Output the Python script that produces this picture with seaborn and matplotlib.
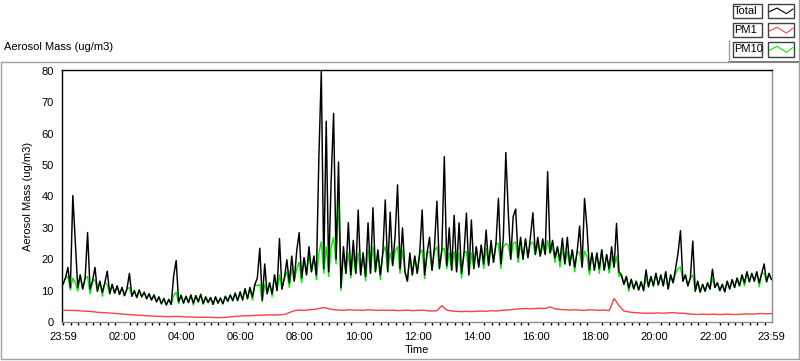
import numpy as np
import pandas as pd
import matplotlib
matplotlib.use("Agg")
import matplotlib.pyplot as plt
import seaborn as sns
from matplotlib.lines import Line2D
from matplotlib.patches import Rectangle

# ---------------- data ----------------
# Total and PM10: one value every 5 minutes, starting 23:59 (minute 0)
total = [
    12.0, 14.0, 17.4, 11.0, 40.3, 25.5, 11.0, 15.0, 10.5, 14.0, 28.5, 10.5,
    13.0, 17.4, 9.8, 13.0, 9.5, 12.5, 16.2, 9.0, 12.0, 9.2, 11.5, 8.8,
    11.0, 8.4, 10.5, 15.5, 8.2, 10.0, 7.8, 10.2, 8.0, 9.5, 7.4, 9.0,
    7.0, 8.6, 6.4, 8.0, 5.8, 7.5, 5.4, 7.2, 5.6, 14.8, 19.6, 6.5,
    8.5, 6.0, 8.2, 6.2, 8.6, 6.0, 8.4, 6.4, 8.8, 5.8, 8.0, 6.2,
    7.8, 5.6, 8.0, 6.0, 7.6, 5.8, 8.2, 6.6, 8.6, 6.8, 9.2, 6.8,
    9.6, 7.0, 10.6, 7.4, 11.0, 8.0, 12.0, 14.0, 23.5, 7.0, 18.5, 9.0,
    12.5, 9.0, 15.0, 10.0, 26.6, 10.5, 14.0, 19.8, 12.5, 21.0, 13.0, 22.6,
    28.5, 14.0, 20.5, 15.0, 24.0, 16.0, 21.0, 15.0, 52.0, 79.8, 17.0, 64.0,
    16.0, 45.0, 66.5, 20.0, 51.0, 11.0, 24.0, 15.5, 31.7, 15.0, 26.0, 15.5,
    35.7, 15.0, 22.0, 14.5, 31.6, 15.5, 36.4, 16.0, 23.0, 15.0, 22.0, 38.9,
    16.0, 35.0, 18.0, 27.5, 43.7, 17.0, 30.0, 16.0, 13.0, 22.0, 15.0, 21.0,
    15.5, 22.0, 35.7, 15.0, 22.0, 27.0, 16.5, 24.0, 38.5, 17.0, 23.0, 52.7,
    18.0, 30.0, 16.5, 34.0, 16.0, 31.6, 15.5, 22.0, 34.7, 15.0, 32.5, 17.0,
    24.0, 17.5, 24.5, 18.5, 29.3, 18.0, 26.0, 19.0, 25.0, 39.4, 18.5, 27.0,
    54.0, 35.0, 20.0, 33.6, 36.0, 20.5, 27.0, 20.0, 26.5, 20.5, 27.0, 34.8,
    21.5, 27.0, 21.0, 26.5, 21.5, 47.9, 22.0, 26.0, 20.5, 24.0, 19.5, 26.7,
    18.5, 27.0, 18.0, 23.0, 17.5, 22.5, 30.6, 17.5, 39.4, 30.0, 16.5, 22.0,
    16.5, 22.0, 17.0, 23.0, 16.5, 21.5, 17.0, 24.0, 17.5, 31.4, 16.0, 15.0,
    12.0, 14.5, 10.8, 13.6, 10.5, 13.0, 10.2, 12.8, 10.0, 16.6, 11.2, 14.5,
    11.5, 15.5, 11.8, 15.0, 11.5, 16.0, 10.5, 15.0, 12.5, 17.0, 21.9, 29.1,
    13.0, 15.0, 11.5, 14.0, 25.8, 9.8, 13.0, 9.5, 12.0, 9.8, 12.5, 10.5,
    16.8, 11.0, 12.5, 10.0, 12.0, 9.6, 13.0, 10.5, 13.5, 11.0, 14.0, 11.5,
    15.0, 12.5, 16.0, 12.8, 15.5, 13.0, 16.0, 12.5, 15.5, 18.5, 12.8, 15.5,
    13.5,
]
pm10 = [
    12.0, 14.0, 14.5, 10.2, 14.0, 12.5, 9.8, 15.0, 10.5, 14.0, 14.5, 9.0,
    13.0, 13.5, 9.8, 13.0, 8.2, 12.5, 12.0, 9.0, 12.0, 9.2, 11.5, 8.8,
    11.0, 8.4, 10.5, 11.0, 8.2, 10.0, 7.8, 10.2, 8.0, 9.5, 7.4, 9.0,
    7.0, 8.6, 6.4, 8.0, 5.8, 7.5, 5.4, 7.2, 5.6, 8.5, 9.5, 5.8,
    8.5, 6.0, 8.2, 6.2, 8.6, 5.4, 8.4, 6.4, 8.8, 5.8, 8.0, 6.2,
    7.8, 5.6, 8.0, 6.0, 7.6, 5.8, 8.2, 6.6, 8.6, 6.8, 9.2, 6.8,
    9.6, 7.0, 10.6, 7.4, 11.0, 7.0, 12.0, 11.5, 12.0, 6.5, 12.0, 9.0,
    12.5, 8.0, 15.0, 10.0, 15.0, 10.5, 14.0, 16.0, 11.0, 17.0, 13.0, 17.0,
    19.0, 12.5, 20.5, 15.0, 21.0, 16.0, 21.0, 13.5, 22.0, 25.5, 15.5, 24.0,
    14.5, 24.0, 27.0, 18.5, 39.0, 10.0, 22.0, 15.5, 22.0, 14.0, 22.0, 15.5,
    22.0, 15.0, 22.0, 13.2, 23.0, 15.5, 24.0, 16.0, 21.5, 13.5, 22.0, 24.0,
    16.0, 22.0, 18.0, 22.5, 24.0, 15.5, 23.0, 16.0, 13.0, 20.5, 15.0, 21.0,
    15.5, 22.0, 23.0, 13.8, 22.0, 22.5, 16.5, 22.5, 24.0, 17.0, 23.0, 23.5,
    17.0, 22.0, 16.5, 22.5, 16.0, 22.0, 14.0, 22.0, 22.5, 15.0, 22.0, 17.0,
    24.0, 17.5, 24.5, 17.0, 23.5, 18.0, 24.0, 19.0, 25.0, 25.0, 17.0, 24.0,
    25.0, 24.5, 20.0, 25.0, 25.5, 19.0, 25.0, 20.0, 26.5, 20.5, 25.0, 25.5,
    21.5, 25.0, 21.0, 24.5, 21.5, 26.0, 22.0, 24.0, 19.0, 24.0, 17.5, 23.5,
    18.5, 22.5, 18.0, 23.0, 16.0, 22.5, 22.0, 17.5, 22.5, 21.0, 15.0, 22.0,
    16.5, 22.0, 15.5, 23.0, 16.5, 21.5, 15.5, 21.0, 17.5, 21.0, 14.5, 15.0,
    12.0, 14.5, 9.8, 13.6, 10.5, 13.0, 10.2, 12.8, 10.0, 14.0, 11.2, 14.5,
    11.5, 15.5, 11.8, 15.0, 11.5, 16.0, 10.5, 15.0, 12.5, 15.5, 17.0, 17.5,
    13.0, 15.0, 11.5, 14.0, 15.0, 9.8, 13.0, 9.5, 12.0, 9.8, 12.5, 10.5,
    14.0, 11.0, 12.5, 10.0, 12.0, 9.6, 13.0, 10.5, 13.5, 11.0, 14.0, 11.5,
    15.0, 11.5, 16.0, 12.8, 15.5, 13.0, 16.0, 11.2, 15.5, 15.5, 12.8, 15.5,
    13.5,
]
# PM1: one value every 10 minutes
pm1 = [
    3.8, 3.7, 3.7, 3.6, 3.5, 3.4,
    3.3, 3.1, 3.0, 2.9, 2.8, 2.7,
    2.5, 2.4, 2.3, 2.2, 2.1, 2.0,
    1.9, 1.8, 1.8, 1.7, 1.7, 1.8,
    1.7, 1.6, 1.6, 1.5, 1.5, 1.5,
    1.5, 1.4, 1.4, 1.5, 1.6, 1.8,
    1.9, 2.0, 2.0, 2.1, 2.2, 2.2,
    2.3, 2.2, 2.3, 2.4, 3.0, 3.6,
    3.8, 3.7, 3.9, 4.0, 4.3, 4.6,
    4.2, 3.9, 3.8, 3.7, 3.9, 3.8,
    3.8, 3.7, 3.9, 3.8, 3.7, 3.8,
    3.7, 3.8, 3.6, 3.7, 3.8, 3.6,
    3.7, 3.8, 3.6, 3.5, 3.6, 5.2,
    3.8, 3.5, 3.4, 3.3, 3.4, 3.3,
    3.4, 3.5, 3.4, 3.6, 3.5, 3.7,
    3.8, 3.9, 4.1, 4.2, 4.3, 4.2,
    4.3, 4.4, 4.3, 4.8, 4.2, 4.0,
    3.9, 3.8, 3.9, 3.8, 3.7, 3.9,
    3.8, 3.7, 3.8, 3.6, 7.5, 5.2,
    3.5, 3.2, 3.0, 2.9, 2.8, 2.8,
    2.8, 2.9, 2.8, 2.9, 3.0, 2.8,
    2.8, 2.6, 2.5, 2.4, 2.5, 2.4,
    2.5, 2.4, 2.4, 2.5, 2.4, 2.4,
    2.5, 2.6, 2.5, 2.6, 2.7, 2.6,
    2.7,
]
step_5 = 5
step_10 = 10
tick_minutes = [0, 121, 241, 361, 481, 601, 721, 841, 961, 1081, 1201, 1321, 1440]
tick_labels = ["23:59", "02:00", "04:00", "06:00", "08:00", "10:00", "12:00",
               "14:00", "16:00", "18:00", "20:00", "22:00", "23:59"]
series_names = ["Total", "PM1", "PM10"]
series_colors = ["#000000", "#ff4040", "#00ee00"]

# ---------------- figure ----------------
sns.set_theme(style="white")
plt.rcParams["font.family"] = ["Liberation Sans", "DejaVu Sans"]

W, H = 800, 361
fig = plt.figure(figsize=(W / 100, H / 100), dpi=100)
fig.patch.set_facecolor("white")

def fx(x):
    return x / W

def fy(y):
    return 1 - y / H

ax = fig.add_axes([fx(62), fy(322), (772 - 62) / W, (322 - 70) / H])
ax.set_facecolor("white")

t5 = np.arange(len(total)) * step_5
t10 = np.arange(len(pm1)) * step_10
df_total = pd.DataFrame({"minute": t5, "value": total})
df_pm10 = pd.DataFrame({"minute": t5, "value": pm10})
df_pm1 = pd.DataFrame({"minute": t10, "value": pm1})

sns.lineplot(data=df_pm10, x="minute", y="value", ax=ax, color=series_colors[2],
             linewidth=1.0, zorder=2, estimator=None)
sns.lineplot(data=df_pm1, x="minute", y="value", ax=ax, color=series_colors[1],
             linewidth=1.0, zorder=3, estimator=None)
sns.lineplot(data=df_total, x="minute", y="value", ax=ax, color=series_colors[0],
             linewidth=1.05, zorder=4, estimator=None)

ax.set_xlim(-2, 1441)
ax.set_ylim(0, 80.3)
ax.set_yticks(np.arange(0, 81, 10))
ax.set_xticks(tick_minutes)
ax.set_xticklabels(tick_labels)
minor = [m for m in range(1, 1440, 15) if m not in tick_minutes]
ax.set_xticks(minor, minor=True)

for s in ["top", "left"]:
    ax.spines[s].set_color("black")
    ax.spines[s].set_linewidth(1.0)
for s in ["right", "bottom"]:
    ax.spines[s].set_color("#8c8c8c")
    ax.spines[s].set_linewidth(1.0)

ax.tick_params(axis="both", which="major", direction="out", length=4, width=1,
               color="black", labelsize=8, pad=2, labelcolor="black")
ax.tick_params(axis="x", which="minor", direction="out", length=2.2, width=1,
               color="black", bottom=True)
ax.tick_params(axis="x", which="major", pad=3)
ax.grid(False)

ax.set_xlabel("Time", fontsize=8, color="black")
ax.set_ylabel("Aerosol Mass (ug/m3)", fontsize=8, color="black")
ax.xaxis.set_label_coords(0.5, -0.093)
ax.yaxis.set_label_coords((33 - 62) / 710, 0.5)

# title at top-left
fig.text(fx(4), fy(47), "Aerosol Mass (ug/m3)", fontsize=8, ha="left", va="center",
         color="black")

# outer grey frame
frame_c = "#a0a0a0"
def hline(x0, x1, y, c=frame_c, lw=1.0):
    fig.add_artist(Line2D([fx(x0), fx(x1)], [fy(y), fy(y)], color=c, lw=lw,
                          transform=fig.transFigure))
def vline(x, y0, y1, c=frame_c, lw=1.0):
    fig.add_artist(Line2D([fx(x), fx(x)], [fy(y0), fy(y1)], color=c, lw=lw,
                          transform=fig.transFigure))

hline(0.5, 729, 61.5)
hline(729, 799, 61.5, c="#808080", lw=1.5)
vline(729, 40, 61.5)
vline(0.8, 61.5, 359)
hline(0.5, 799, 359)
vline(799, 0, 359)

# legend boxes
legend_rows = [(4.3, 17.7), (23.3, 37.3), (42.3, 56.7)]
for name, col, (y0, y1) in zip(series_names, series_colors, legend_rows):
    fig.add_artist(Rectangle((fx(732.5), fy(y1)), (762.3 - 732.5) / W, (y1 - y0) / H,
                             transform=fig.transFigure, fill=False,
                             edgecolor="#404040", lw=1.0))
    fig.text(fx(734), fy((y0 + y1) / 2), name, fontsize=8, ha="left", va="center",
             color="black")
    fig.add_artist(Rectangle((fx(767.8), fy(y1)), (794.3 - 767.8) / W, (y1 - y0) / H,
                             transform=fig.transFigure, fill=False,
                             edgecolor="#404040", lw=1.0))
    bx = [0.06, 0.35, 0.7, 0.95]
    by = [0.45, 0.72, 0.3, 0.65]
    xs = [fx(767.8 + b * (794.3 - 767.8)) for b in bx]
    ys = [fy(y1 - b * (y1 - y0)) for b in by]
    fig.add_artist(Line2D(xs, ys, color=col, lw=0.8, transform=fig.transFigure))

fig.savefig("out.png", dpi=100, facecolor="white")
